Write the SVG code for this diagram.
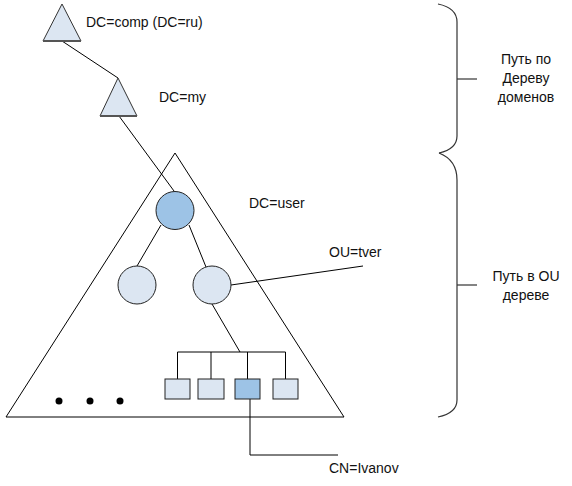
<svg xmlns="http://www.w3.org/2000/svg" width="572" height="486" viewBox="0 0 572 486">
<style>
.ln{fill:none;stroke:#000;stroke-width:1}
.tri{fill:#dce6f2;stroke:#333;stroke-width:1}
.base{stroke:#555;stroke-width:2.2}
.lt{fill:#dce6f2;stroke:#222;stroke-width:1}
.dk{fill:#9dc3e6;stroke:#222;stroke-width:1}
.br{fill:none;stroke:#333;stroke-width:1.2}
text{font-family:"Liberation Sans",Arial,sans-serif;font-size:14px;fill:#111}
.c{text-anchor:middle}
</style>
<rect width="572" height="486" fill="#fff"/>
<g id="connectors">
<line class="ln" x1="62" y1="41" x2="118" y2="78"/>
<line class="ln" x1="119" y1="116" x2="174" y2="191"/>
<line class="ln" x1="161" y1="225" x2="137" y2="266"/>
<line class="ln" x1="189" y1="225" x2="206" y2="267"/>
<line class="ln" x1="231" y1="285" x2="363" y2="266"/>
<line class="ln" x1="212" y1="304" x2="240" y2="352"/>
<polyline class="ln" points="177.5,379 177.5,352 285.5,352 285.5,379"/>
<line class="ln" x1="211" y1="352" x2="211" y2="379"/>
<line class="ln" x1="247.5" y1="352" x2="247.5" y2="379"/>
<polyline class="ln" points="250,399 250,455 338,455"/>
</g>
<g id="domain-tree">
<polygon class="ln" points="175,153 6,417 344,417"/>
</g>
<g id="dc-comp">
<polygon class="tri" points="62,4 43,41 81,41"/>
<line class="base" x1="43" y1="41" x2="81" y2="41"/>
<text x="86" y="27">DC=comp (DC=ru)</text>
</g>
<g id="dc-my">
<polygon class="tri" points="118,78 100,116 137,116"/>
<line class="base" x1="100" y1="116" x2="137" y2="116"/>
<text x="159" y="102">DC=my</text>
</g>
<g id="dc-user">
<circle class="dk" cx="175" cy="210.5" r="19"/>
<text x="249" y="208">DC=user</text>
</g>
<g id="ou-left">
<circle class="lt" cx="137" cy="285" r="19"/>
</g>
<g id="ou-tver">
<circle class="lt" cx="212" cy="285" r="19"/>
<text x="329" y="257">OU=tver</text>
</g>
<g id="leaf1"><rect class="lt" x="165" y="379" width="25" height="20"/></g>
<g id="leaf2"><rect class="lt" x="198" y="379" width="26" height="20"/></g>
<g id="cn-ivanov"><rect class="dk" x="235" y="379" width="25" height="20"/>
<text x="329" y="473">CN=Ivanov</text></g>
<g id="leaf4"><rect class="lt" x="273" y="379" width="25" height="20"/></g>
<g id="dots">
<circle cx="59" cy="401" r="3.5" fill="#000"/>
<circle cx="90" cy="401" r="3.5" fill="#000"/>
<circle cx="120" cy="401" r="3.5" fill="#000"/>
</g>
<g id="brace-domains">
<path class="br" d="M438,4 Q457,8 457,22 L457,136 Q457,149 439,153"/>
<line class="br" x1="457" y1="79" x2="477" y2="79"/>
<text class="c" x="526" y="64">Путь по</text>
<text class="c" x="526" y="83">Дереву</text>
<text class="c" x="526" y="102">доменов</text>
</g>
<g id="brace-ou">
<path class="br" d="M439,153 Q457,160 457,180 L457,400 Q457,413 438,417"/>
<line class="br" x1="457" y1="285" x2="477" y2="285"/>
<text class="c" x="526" y="281">Путь в OU</text>
<text class="c" x="526" y="300">дереве</text>
</g>
</svg>
